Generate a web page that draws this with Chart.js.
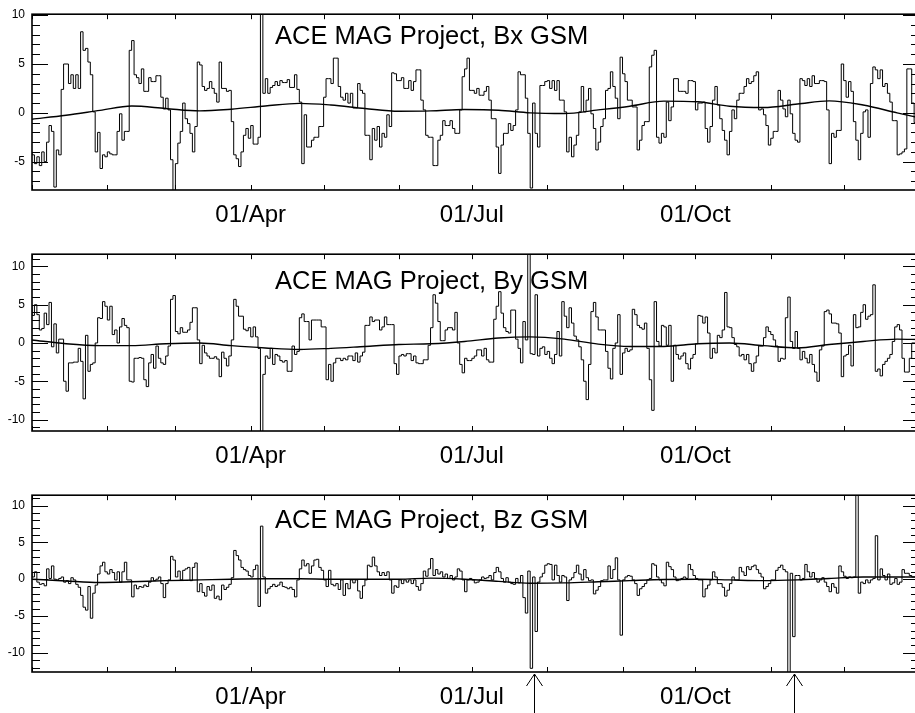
<!DOCTYPE html>
<html>
<head>
<meta charset="utf-8">
<script src="https://cdn.jsdelivr.net/npm/chart.js@4.4.1/dist/chart.umd.min.js"></script>
<style>
  html, body { margin: 0; padding: 0; background: #fff; }
  #wrap { position: relative; width: 915px; height: 713px; overflow: hidden; }
  #wrap canvas { position: absolute; left: 0; }
</style>
</head>
<body>
<div id="wrap">
  <canvas id="bx" width="930" height="240" style="top:0px"></canvas>
  <canvas id="by" width="930" height="240" style="top:240px"></canvas>
  <canvas id="bz" width="930" height="240" style="top:481px"></canvas>
</div>
<script>
// daily means, index 0 = 01/Jan
var bx = [
  -4.0,-4.3,-5.2,-4.5,-5.4,-4.0,-5.0,-3.0,-1.3,-1.9,
  -7.6,-3.8,-4.3,2.4,5.0,5.0,3.0,3.9,2.5,3.9,
  2.5,8.3,6.4,6.6,5.2,3.9,0.1,-4.0,-2.0,-5.7,
  -4.3,-4.5,-4.0,-4.2,-4.3,-4.3,-1.9,-0.1,-2.8,-1.9,
  -1.9,6.4,7.4,3.9,3.6,3.0,4.5,2.2,2.2,3.6,
  3.2,3.2,3.8,3.8,1.6,0.4,1.5,0.3,-4.8,-9.0,
  -5.2,-3.1,-1.9,1.0,-0.6,-1.1,-2.1,-4.0,-1.4,5.2,
  4.9,2.7,2.3,2.5,3.2,2.5,2.0,1.1,5.2,2.5,
  2.5,2.2,2.3,-0.9,-4.3,-4.7,-5.5,-4.0,-2.3,-1.6,
  -2.6,-1.3,-3.2,-3.2,-2.5,12.0,2.0,3.5,2.0,2.6,
  2.8,3.2,2.8,3.3,3.1,3.1,3.4,2.6,2.6,3.9,
  2.4,1.1,-5.2,-0.2,-3.5,-3.5,-2.8,-2.5,-2.5,-1.4,
  -1.4,1.6,3.5,3.5,3.0,5.6,5.6,2.7,1.6,1.3,
  2.0,1.0,2.0,0.5,0.5,3.0,2.3,2.0,-2.3,-2.3,
  -4.8,-1.6,-2.8,-1.4,-3.5,-2.1,-2.5,-0.2,-1.4,4.1,
  4.0,3.3,3.3,3.6,2.5,2.5,3.3,2.3,3.2,4.4,
  4.4,1.3,0.3,-2.3,-2.5,-2.5,-5.4,-5.4,-2.8,-2.3,
  -0.8,-1.3,-1.3,-0.8,-1.6,-2.1,-2.1,0.3,3.7,4.5,
  5.6,2.3,2.3,2.0,2.5,1.8,1.8,2.2,2.7,1.3,
  -0.6,-0.6,-3.5,-6.2,-3.3,-2.1,-2.1,-1.1,-1.8,-1.3,
  0.3,4.2,3.9,3.9,1.5,-2.1,-7.7,1.0,-2.1,-3.5,
  2.8,2.8,3.2,3.3,2.5,3.3,2.3,3.3,1.3,1.3,
  0.1,-4.0,-2.5,-4.5,-3.3,-2.3,0.1,2.7,0.1,1.3,
  2.5,-0.1,-1.6,-3.8,-3.0,-1.4,-0.6,2.3,2.5,4.2,
  2.7,1.5,-0.6,5.7,4.0,3.2,1.3,1.3,0.6,0.6,
  -3.8,-2.8,-1.3,-0.9,-0.9,4.7,5.9,6.4,-2.5,-3.1,
  -2.1,-2.5,1.1,-0.8,0.6,3.5,3.5,2.2,2.2,2.2,
  2.0,3.3,3.3,3.2,0.3,1.0,1.0,1.1,-1.6,-3.0,
  -1.4,1.3,2.7,0.8,-0.6,-1.8,-2.8,-4.3,-1.9,0.3,
  -0.6,1.3,2.0,2.0,2.7,3.5,3.0,3.2,3.8,4.2,
  0.3,0.4,-0.2,-1.3,-3.3,-2.6,-1.9,-1.9,2.3,1.3,
  0.4,-0.4,1.3,-0.1,-2.1,-2.8,-3.0,3.5,3.3,2.8,
  3.5,2.7,3.8,3.0,3.0,3.3,3.3,3.2,0.3,-5.2,
  -2.1,-2.5,-1.8,-1.8,5.0,3.3,1.6,3.2,2.2,-0.9,
  -2.8,-4.8,-2.1,0.1,0.3,-2.5,3.0,4.7,4.4,3.5,
  4.4,2.7,3.0,2.0,1.1,-0.8,-0.8,-4.3,-4.2,-4.0,
  -3.7,4.5,4.5,1.0,-1.0
];
var by = [
  5.0,3.6,5.0,3.7,1.7,1.9,3.9,2.4,5.3,-0.5,
  2.5,-1.3,0.5,0.5,-5.0,-6.3,-2.6,-2.6,-2.5,-2.5,
  -0.7,-2.4,-7.3,1.0,-3.7,-2.8,-2.6,0.0,3.3,3.2,
  5.4,4.8,3.0,4.8,1.1,1.7,0.0,2.1,3.2,2.3,
  2.0,-5.0,-5.1,-2.0,-2.0,-1.9,-2.0,-4.8,-5.7,-2.6,
  -1.5,-3.3,-0.4,-2.0,-2.6,-2.8,-1.7,-0.4,5.7,6.2,
  1.5,1.2,2.0,1.4,1.4,1.7,2.7,4.6,4.6,0.4,
  -2.7,-0.3,-1.3,-1.7,-2.0,-2.0,-1.8,-2.1,-4.4,-1.2,
  -2.0,-3.0,-1.7,0.4,5.7,4.8,3.5,3.5,1.8,1.6,
  2.0,0.8,2.1,0.8,-0.7,-13.0,-4.1,-1.7,-2.0,-0.7,
  -2.8,-1.5,-1.7,-2.3,-2.5,-2.3,-3.7,-3.7,-0.4,-1.5,
  -1.1,3.3,3.8,2.8,2.8,0.4,3.0,3.0,3.0,3.0,
  2.1,2.1,-4.8,-2.8,-5.0,-2.6,-2.0,-2.0,-2.3,-2.0,
  -2.2,-1.7,-1.7,-2.3,-1.3,-2.5,-1.7,-1.2,2.3,2.3,
  3.4,2.8,3.0,3.0,1.7,2.1,3.4,2.4,2.4,2.4,
  -2.7,-4.1,-1.7,-1.5,-1.7,-1.4,-1.4,-2.3,-1.7,-2.6,
  -2.7,-2.7,-2.2,-2.2,-0.3,2.0,6.3,5.2,2.8,0.3,
  0.3,1.7,2.0,2.0,1.7,4.0,0.0,-2.8,-3.9,-2.0,
  -2.3,-2.3,-2.0,-1.7,-0.9,-0.9,-1.7,-0.7,-2.2,-2.5,
  -2.5,3.1,4.8,6.7,3.9,2.0,1.5,1.3,4.3,4.3,
  0.5,-0.7,-2.6,2.8,0.4,13.0,-1.4,-1.5,6.3,-1.7,
  -0.7,-0.5,-1.5,-1.1,-2.0,-2.7,-1.5,1.5,-1.7,5.4,
  3.5,2.0,4.6,2.6,0.9,0.4,-0.5,-2.2,-5.0,-7.4,
  -2.8,4.1,5.3,3.4,1.7,1.7,1.7,-1.1,-3.3,-4.7,
  -0.7,0.0,3.7,-4.1,-1.3,-0.7,-1.1,-0.9,4.4,3.7,
  2.3,2.0,1.8,2.6,-0.7,-4.8,-8.8,5.4,0.2,-0.4,
  2.3,2.1,-0.3,2.3,-5.0,-0.3,-1.5,-2.1,-1.7,-1.3,
  -2.7,-3.4,-2.0,-1.5,-0.1,3.6,3.5,2.6,3.4,1.3,
  -2.0,-0.7,-1.3,1.0,0.7,1.7,6.6,2.1,2.0,0.7,
  -0.2,-0.5,-1.7,-1.5,-2.2,-1.5,-2.7,-3.7,-2.6,-1.7,
  -0.4,-0.4,0.7,2.1,1.5,1.1,0.4,-0.4,-2.4,-2.0,
  -2.1,3.3,6.0,0.2,-0.7,1.5,-0.7,-2.2,-1.1,-2.0,
  -2.6,-1.5,-2.8,-3.8,-5.0,-0.9,-0.4,4.1,4.3,3.8,
  2.6,2.6,2.5,1.3,-4.4,-1.7,-1.5,-0.3,-3.0,3.7,
  2.0,2.1,4.0,5.0,3.1,3.5,3.7,7.6,-3.7,-3.4,
  -4.3,-2.8,-2.4,-2.0,-1.5,0.2,2.1,2.4,1.7,-2.0,
  -3.8,-3.8,-2.0,0.0,0.0
];
var bz = [
  1.0,0.3,1.0,-0.4,-0.7,-0.6,-0.9,1.4,0.1,1.8,
  0.0,-0.1,0.1,0.3,-0.4,-0.2,-0.6,0.2,-0.1,-0.7,
  -1.1,-2.2,-3.8,-4.2,-1.0,-5.3,-1.9,-0.8,0.7,1.8,
  2.3,1.0,0.7,1.3,0.9,-0.1,1.0,-0.4,1.0,2.3,
  -0.1,-0.1,-2.4,-0.8,-1.3,-1.0,-1.1,-0.8,-1.0,-0.4,
  0.2,-0.2,0.0,0.3,-0.6,-2.5,-0.6,-0.1,3.1,2.6,
  0.3,1.1,-0.1,1.2,1.4,1.6,-0.2,1.6,2.2,-1.7,
  -0.6,-1.8,-2.3,-1.0,-1.5,-0.8,-2.6,-2.3,-2.8,-0.8,
  -1.4,-1.1,-0.7,0.2,3.9,3.2,2.6,1.6,1.3,1.1,
  0.5,0.3,1.3,1.9,-3.7,7.2,0.3,-1.9,-1.3,-1.0,
  -0.7,-1.0,-0.8,-0.4,-1.0,-1.1,-1.3,-1.1,-1.4,-2.4,
  -0.1,1.4,2.6,1.8,2.1,0.8,1.8,2.6,2.7,1.6,
  1.2,-0.1,-1.0,1.2,-0.7,-0.9,-0.6,-1.4,-0.1,-2.2,
  -0.6,-1.3,-0.1,-0.5,-0.1,-1.6,-2.6,-0.9,-0.1,1.9,
  1.7,3.0,1.8,1.0,0.5,0.9,0.5,1.0,-0.1,-1.9,
  -0.9,-1.1,-0.1,-0.6,-0.1,-0.4,-0.1,-0.6,-0.1,-1.0,
  -1.5,-0.6,1.1,0.4,1.4,2.8,0.5,1.3,0.7,1.0,
  0.3,0.7,0.1,0.5,-0.1,0.3,1.4,1.1,-0.1,-1.7,
  -0.1,0.1,-0.1,-0.5,-0.4,-0.1,0.3,0.1,0.2,0.5,
  -0.1,0.9,1.6,1.0,0.1,-0.4,0.2,-0.4,-0.6,-0.7,
  0.1,-0.5,0.5,-2.5,-4.6,1.1,-12.1,0.3,-7.1,-0.4,
  0.3,0.8,1.9,2.1,2.0,-0.1,1.9,0.5,-0.4,0.5,
  0.3,-2.9,-0.1,0.2,0.9,1.9,0.7,-0.1,1.3,0.2,
  -0.2,-0.1,-2.0,-1.5,-1.0,-0.2,-0.1,-0.1,1.8,0.1,
  1.3,2.9,-0.1,-7.6,-0.1,0.3,0.5,0.4,-0.1,-0.6,
  -2.2,-1.3,-1.0,-0.6,-0.1,0.1,2.1,1.9,0.3,-0.1,
  -0.5,-0.9,2.3,1.7,1.3,0.3,-0.2,-0.1,0.1,0.3,
  0.1,2.0,1.3,0.5,0.1,-0.1,-0.1,-2.4,-1.3,-0.8,
  -0.1,1.0,0.3,-0.6,-0.6,-1.1,-2.3,-1.5,-0.6,0.3,
  -0.1,-0.1,1.6,1.0,0.5,1.7,1.3,1.7,1.9,1.3,
  0.8,0.3,-1.3,-1.0,-0.6,-0.1,-0.1,1.2,1.6,1.9,
  1.3,1.0,-13.0,0.8,-7.8,0.5,0.5,-0.1,0.1,2.0,
  1.0,0.3,0.9,0.1,-0.4,-0.1,0.2,-0.4,-1.0,-1.7,
  -0.6,-1.1,-1.9,1.8,1.0,0.4,0.1,0.3,0.2,0.3,
  13.0,-1.9,-0.4,-0.6,-0.1,-0.5,-0.1,0.1,5.9,-0.1,
  1.4,0.5,-0.1,0.7,-0.7,-0.5,0.1,-0.7,-0.4,1.3,
  0.8,0.8,0.5,0.3,0.3
];

// slow fit curves, read every ~two weeks
var smoothDays = [0,14,28,41,55,69,82,96,110,123,137,151,164,178,192,205,219,233,246,260,274,287,301,315,328,342,356,365];
var bxSmooth = [-0.65,-0.25,0.25,0.7,0.45,0.2,0.37,0.7,0.97,0.8,0.45,0.17,0.2,0.34,0.27,0.0,-0.07,0.3,0.68,1.2,1.13,0.68,0.55,0.9,1.23,0.8,0.0,-0.5];
var bySmooth = [0.4,-0.1,-0.35,-0.35,-0.1,0.0,-0.35,-0.65,-0.85,-0.7,-0.45,-0.2,-0.1,0.2,0.65,0.8,0.5,-0.15,-0.45,-0.45,-0.1,0.0,-0.35,-0.65,-0.2,0.2,0.5,0.45];
var bzSmooth = [0.0,-0.25,-0.45,-0.35,-0.2,-0.1,0.0,0.05,0.05,0.0,0.0,0.0,0.15,0.0,-0.3,-0.55,-0.5,-0.35,-0.2,-0.05,0.0,-0.1,-0.2,-0.1,0.1,0.3,0.3,0.3];

var monthStarts = [0,31,59,90,120,151,181,212,243,273,304,334,365];
var tickDays = [90,181,273];
var tickLabels = ['01/Apr','01/Jul','01/Oct'];
var arrowDays = [206.5,313.5];

var FONT = "'Liberation Sans', Arial, Helvetica, sans-serif";

var framePlugin = {
  id: 'frame',
  afterDraw: function (chart, args, opts) {
    var ctx = chart.ctx, a = chart.chartArea;
    var xs = chart.scales.x, ys = chart.scales.y;
    ctx.save();
    ctx.strokeStyle = '#000';
    ctx.lineWidth = 1;
    ctx.beginPath();
    for (var v = Math.ceil(ys.min); v <= ys.max; v++) {
      var py = Math.round(ys.getPixelForValue(v)) + 0.5;
      var len = (v % 5 === 0) ? 16 : 8;
      ctx.moveTo(a.left, py); ctx.lineTo(a.left + len, py);
      ctx.moveTo(a.right, py); ctx.lineTo(a.right - len, py);
    }
    monthStarts.forEach(function (d) {
      var px = Math.round(xs.getPixelForValue(d)) + 0.5;
      ctx.moveTo(px, a.bottom); ctx.lineTo(px, a.bottom - 5);
      ctx.moveTo(px, a.top); ctx.lineTo(px, a.top + 5);
    });
    ctx.stroke();
    ctx.lineWidth = 1.6;
    ctx.strokeRect(a.left, a.top, a.right - a.left, a.bottom - a.top);

    ctx.fillStyle = '#000';
    ctx.font = '25.5px ' + FONT;
    ctx.textAlign = 'left';
    ctx.textBaseline = 'alphabetic';
    ctx.fillText(opts.text, xs.getPixelForValue(100), ys.getPixelForValue(7));

    ctx.lineWidth = 1;
    (opts.arrows || []).forEach(function (d) {
      var px = Math.round(xs.getPixelForValue(d)) + 0.5;
      var tip = a.bottom + 2;
      ctx.beginPath();
      ctx.moveTo(px, tip); ctx.lineTo(px, chart.height);
      ctx.moveTo(px - 8, tip + 12); ctx.lineTo(px, tip); ctx.lineTo(px + 8, tip + 12);
      ctx.stroke();
    });
    ctx.restore();
  }
};

function makePanel(id, values, smooth, yMin, yMax, plotH, title, arrows) {
  new Chart(document.getElementById(id), {
    type: 'line',
    data: {
      datasets: [{
        data: values.map(function (v, i) { return { x: i, y: v }; }),
        stepped: 'after',
        borderColor: '#000',
        borderWidth: 1,
        pointRadius: 0
      }, {
        data: smoothDays.map(function (d, i) { return { x: d, y: smooth[i] }; }),
        cubicInterpolationMode: 'monotone',
        borderColor: '#000',
        borderWidth: 1.4,
        pointRadius: 0
      }]
    },
    options: {
      responsive: false,
      animation: false,
      devicePixelRatio: 1,
      layout: { padding: { top: 14, right: 7, bottom: 0, left: 0 } },
      plugins: {
        legend: { display: false },
        tooltip: { enabled: false },
        frame: { text: title, arrows: arrows }
      },
      scales: {
        x: {
          type: 'linear', min: 0, max: 365,
          grid: { display: false, drawTicks: false },
          border: { display: false },
          afterBuildTicks: function (s) { s.ticks = monthStarts.map(function (d) { return { value: d }; }); },
          afterFit: function (s) { s.height = 240 - 14 - plotH; },
          ticks: {
            autoSkip: false, maxRotation: 0, minRotation: 0, padding: 11, color: '#000',
            font: { family: FONT, size: 24 },
            callback: function (v) { var k = tickDays.indexOf(v); return k >= 0 ? tickLabels[k] : ''; }
          }
        },
        y: {
          min: yMin, max: yMax,
          grid: { display: false, drawTicks: false },
          border: { display: false },
          afterFit: function (s) { s.width = 32; },
          ticks: { stepSize: 5, includeBounds: false, padding: 7, color: '#000', font: { family: FONT, size: 12 } }
        }
      }
    },
    plugins: [framePlugin]
  });
}

makePanel('bx', bx, bxSmooth, -7.9, 10.1, 176, 'ACE MAG Project, Bx GSM', []);
makePanel('by', by, bySmooth, -11.5, 11.6, 177, 'ACE MAG Project, By GSM', []);
makePanel('bz', bz, bzSmooth, -12.6, 11.4, 177, 'ACE MAG Project, Bz GSM', arrowDays);
</script>
</body>
</html>
